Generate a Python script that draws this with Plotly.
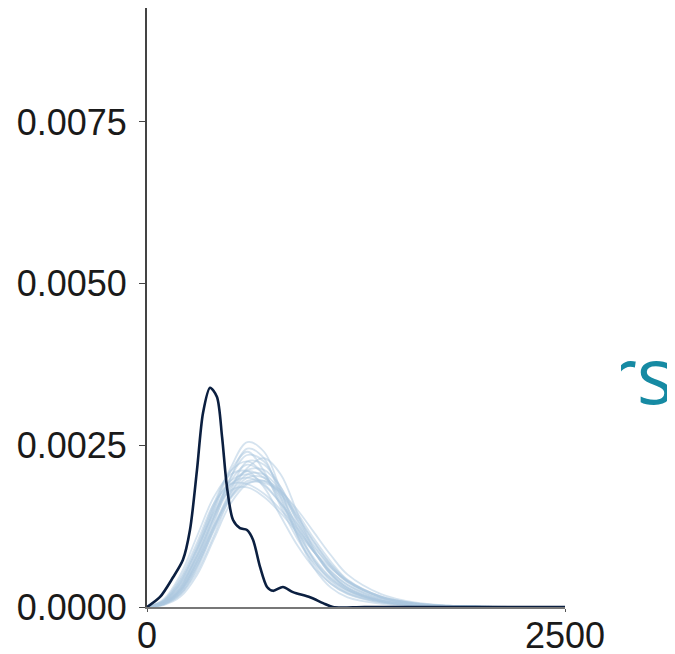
import plotly.graph_objects as go

# observed density (y)
obs_x = [0, 78, 156, 215, 257, 299, 335, 377, 418, 449, 478, 514, 556, 598, 634, 676, 718, 754, 813, 873, 975, 1053, 1112, 1300, 1800, 2500]
obs_y = [0, 0.000155, 0.00046, 0.00073, 0.00119, 0.00212, 0.0030, 0.00339, 0.00325, 0.00263, 0.00186, 0.00135,
         0.00122, 0.00119, 0.00104, 0.00062, 0.00031, 0.00025, 0.00031, 0.00023, 0.00015, 0.00006, 0, 0, 0, 0]

# replicated densities (y_rep)
rep_x = [0, 100, 200, 300, 400, 500, 600, 700, 800, 900, 1000, 1100, 1200, 1400, 1600, 1800, 2000, 2200]
rep_1 = [0, 0.00008, 0.00035, 0.0008, 0.0014, 0.00195, 0.0022, 0.00205, 0.00165, 0.00115, 0.00075, 0.00045, 0.00026, 0.00009, 0.00003, 0.00001, 0.000003, 0]
rep_2 = [0, 0.00005, 0.00025, 0.0007, 0.0013, 0.0020, 0.00245, 0.0023, 0.0017, 0.0011, 0.00065, 0.00036, 0.0002, 0.00007, 0.000025, 0.000008, 0.000002, 0]
rep_3 = [0, 0.0001, 0.00045, 0.001, 0.0016, 0.0019, 0.0019, 0.00175, 0.0015, 0.0012, 0.00085, 0.00055, 0.00034, 0.00012, 0.00004, 0.000012, 0.000003, 0]
rep_4 = [0, 0.00004, 0.0002, 0.00055, 0.0011, 0.0017, 0.002, 0.002, 0.00175, 0.00135, 0.00095, 0.00062, 0.00038, 0.00014, 0.00005, 0.000015, 0.000004, 0]
rep_5 = [0, 0.00007, 0.0003, 0.00085, 0.00155, 0.00215, 0.00255, 0.0024, 0.0018, 0.0011, 0.0006, 0.0003, 0.00015, 0.00005, 0.000015, 0.000005, 0.000001, 0]
rep_6 = [0, 0.00009, 0.0004, 0.0009, 0.00145, 0.0018, 0.00185, 0.0017, 0.00145, 0.00115, 0.00085, 0.0006, 0.0004, 0.00016, 0.00006, 0.00002, 0.000005, 0]
rep_7 = [0, 0.00006, 0.00028, 0.00075, 0.00135, 0.00185, 0.0021, 0.002, 0.0017, 0.00125, 0.00085, 0.00052, 0.0003, 0.0001, 0.000035, 0.00001, 0.000003, 0]
rep_8 = [0, 0.00003, 0.00016, 0.0005, 0.00105, 0.0016, 0.0019, 0.00195, 0.0018, 0.00145, 0.00105, 0.0007, 0.00042, 0.00016, 0.000055, 0.000018, 0.000005, 0]
rep_9 = [0, 0.00012, 0.0005, 0.0011, 0.0017, 0.00205, 0.0021, 0.00185, 0.0014, 0.00095, 0.0006, 0.00036, 0.00021, 0.00007, 0.000022, 0.000007, 0.000002, 0]
rep_10 = [0, 0.00005, 0.00023, 0.00065, 0.00125, 0.0018, 0.00225, 0.0022, 0.00185, 0.0013, 0.00085, 0.0005, 0.00028, 0.00009, 0.00003, 0.00001, 0.000002, 0]
rep_11 = [0, 0.00008, 0.00036, 0.00088, 0.00148, 0.0019, 0.002, 0.00188, 0.0016, 0.00128, 0.00092, 0.00062, 0.00039, 0.00015, 0.00005, 0.000015, 0.000004, 0]
rep_12 = [0, 0.00006, 0.00026, 0.0007, 0.00125, 0.0017, 0.00195, 0.00195, 0.00175, 0.0014, 0.001, 0.00065, 0.0004, 0.00015, 0.00005, 0.000015, 0.000004, 0]
rep_13 = [0, 0.00007, 0.00032, 0.0008, 0.0015, 0.0021, 0.0024, 0.0021, 0.00155, 0.00105, 0.00068, 0.00042, 0.00025, 0.00009, 0.00003, 0.00001, 0.000003, 0]
rep_14 = [0, 0.00004, 0.00019, 0.0006, 0.0012, 0.00175, 0.00205, 0.00205, 0.0018, 0.0014, 0.001, 0.00066, 0.00041, 0.00016, 0.00006, 0.00002, 0.000006, 0]
rep_15 = [0, 0.0001, 0.00042, 0.00095, 0.00155, 0.00195, 0.00205, 0.0019, 0.0016, 0.00122, 0.00085, 0.00055, 0.00034, 0.00012, 0.00004, 0.000012, 0.000003, 0]
rep_16 = [0, 0.00006, 0.00027, 0.00072, 0.00138, 0.002, 0.00235, 0.00225, 0.00178, 0.0012, 0.00072, 0.0004, 0.00022, 0.00008, 0.000025, 0.000008, 0.000002, 0]
rep_17 = [0, 0.00005, 0.00022, 0.00062, 0.00118, 0.00168, 0.00192, 0.00192, 0.00178, 0.0015, 0.00115, 0.0008, 0.0005, 0.0002, 0.00007, 0.000022, 0.000006, 0]
rep_18 = [0, 0.00009, 0.00038, 0.00092, 0.0016, 0.0021, 0.00225, 0.00205, 0.0016, 0.00112, 0.00072, 0.00044, 0.00026, 0.00009, 0.00003, 0.00001, 0.000003, 0]
rep_19 = [0, 0.00006, 0.0003, 0.00078, 0.0014, 0.00188, 0.00212, 0.00212, 0.00185, 0.00135, 0.00088, 0.00052, 0.0003, 0.0001, 0.000035, 0.00001, 0.000003, 0]
rep_20 = [0, 0.00005, 0.00024, 0.00066, 0.00122, 0.00176, 0.00215, 0.0023, 0.00205, 0.00145, 0.00088, 0.0005, 0.00028, 0.0001, 0.000035, 0.00001, 0.000003, 0]
reps = [rep_1, rep_2, rep_3, rep_4, rep_5, rep_6, rep_7, rep_8, rep_9, rep_10,
        rep_11, rep_12, rep_13, rep_14, rep_15, rep_16, rep_17, rep_18, rep_19, rep_20]

y_ticks = [0, 0.0025, 0.005, 0.0075]
y_tick_labels = ["0.0000", "0.0025", "0.0050", "0.0075"]
x_ticks = [0, 2500]
x_tick_labels = ["0", "2500"]
side_text_parts = ["r", "s"]

fig = go.Figure()
for r in reps:
    fig.add_trace(go.Scatter(x=rep_x, y=r, mode="lines",
                             line=dict(color="rgba(172,199,224,0.5)", width=1.8, shape="spline", smoothing=1.0),
                             showlegend=False, hoverinfo="skip"))
fig.add_trace(go.Scatter(x=obs_x, y=obs_y, mode="lines",
                         line=dict(color="#0b1f40", width=2.6, shape="spline", smoothing=0.8),
                         showlegend=False))

# clipped side text (letters in a small clipping subplot; x2 in pixels from its left edge)
fig.add_trace(go.Scatter(x=[16, 53], y=[0.3715, 0.3715], mode="text", text=side_text_parts,
                         textposition="middle left",
                         textfont=dict(family="Open Sans", size=78, color="#168aa3"),
                         xaxis="x2", yaxis="y2", cliponaxis=True, showlegend=False, hoverinfo="skip"))

# page has an 8px body margin: figure coordinates = page - 8
main_w = 418 / 528
fig.update_layout(
    width=667, height=646,
    margin=dict(l=139, r=0, t=0, b=47, autoexpand=False),
    plot_bgcolor="white", paper_bgcolor="white",
    font=dict(family="Liberation Sans", size=36, color="#1a1a1a"),
    xaxis=dict(domain=[0, main_w], range=[0, 2500], tickvals=x_ticks, ticktext=x_tick_labels,
               showgrid=False, zeroline=False, showline=True, linecolor="#777777", linewidth=2,
               ticks="outside", ticklen=3, tickcolor="#555555", automargin=False,
               ticklabelstandoff=-7),
    yaxis=dict(range=[0, 0.009261], tickvals=y_ticks, ticktext=y_tick_labels,
               showgrid=False, zeroline=False, showline=True, linecolor="#444444", linewidth=2,
               ticks="outside", ticklen=6, tickcolor="#444444", automargin=False,
               ticklabelstandoff=5),
    xaxis2=dict(domain=[(613 - 139) / 528, 1.0], range=[0, 54], visible=False, anchor="y2"),
    yaxis2=dict(domain=[0, 1], range=[0, 1], visible=False, anchor="x2"),
)

fig.write_html("out.html")
